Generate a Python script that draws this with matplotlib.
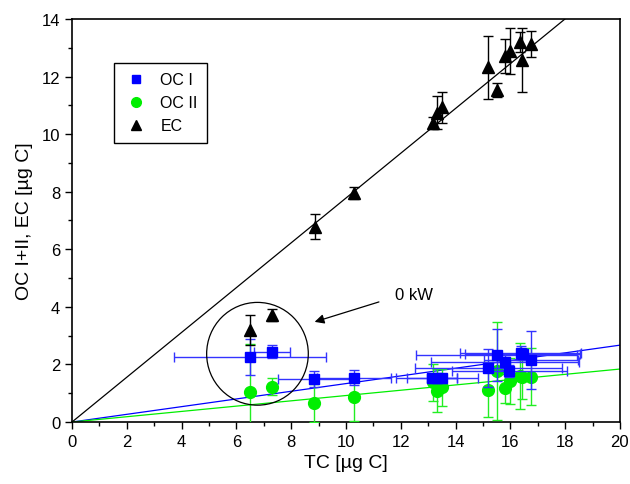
import numpy as np
import matplotlib
matplotlib.use("Agg")
import matplotlib.pyplot as plt
from matplotlib.patches import Ellipse
from matplotlib.lines import Line2D

plt.rcParams['font.family'] = ['Liberation Sans', 'DejaVu Sans']

# OC I (blue squares)
tc_oc1 = [6.5, 7.29, 8.84, 10.29, 13.13, 13.31, 13.49, 15.19, 15.5, 15.81, 15.96, 16.38, 16.45, 16.75]
oc1 = [2.27, 2.44, 1.49, 1.53, 1.52, 1.53, 1.52, 1.88, 2.34, 2.07, 1.78, 2.40, 2.35, 2.16]
oc1_yerr = [0.63, 0.23, 0.28, 0.26, 0.15, 0.15, 0.15, 0.66, 0.9, 0.25, 0.2, 0.25, 0.2, 1.0]
oc1_xerr = [2.78, 0.66, 1.32, 1.35, 0.92, 1.5, 0.55, 2.68, 2.95, 2.7, 2.1, 2.2, 2.1, 1.72]

# OC II (green circles)
tc_oc2 = [6.5, 7.29, 8.84, 10.29, 13.16, 13.33, 13.49, 15.19, 15.5, 15.81, 15.98, 16.35, 16.41, 16.75]
oc2 = [1.06, 1.23, 0.66, 0.86, 1.38, 1.09, 1.20, 1.12, 1.78, 1.17, 1.43, 1.61, 1.55, 1.58]
oc2_err = [1.65, 0.3, 0.66, 0.82, 0.65, 0.75, 0.65, 0.95, 1.7, 0.5, 0.8, 1.15, 0.75, 1.0]

# EC (black triangles)
tc_ec = [6.5, 7.29, 8.87, 10.3, 13.16, 13.33, 13.49, 15.19, 15.52, 15.8, 15.98, 16.35, 16.41, 16.75]
ec = [3.2, 3.72, 6.79, 7.95, 10.38, 10.75, 10.93, 12.32, 11.54, 12.72, 12.89, 13.2, 12.57, 13.13]
ec_err = [0.52, 0.2, 0.45, 0.2, 0.2, 0.56, 0.55, 1.1, 0.25, 0.6, 0.8, 0.35, 1.1, 0.45]

# fit slopes (lines through origin)
slope_ec = 0.778
slope_oc1 = 0.1335
slope_oc2 = 0.092

blue = '#0000ff'
green = '#00ee00'

fig = plt.figure(figsize=(6.3, 4.85), dpi=100)
ax = fig.add_axes([0.1143, 0.1278, 0.8697, 0.831])

xx = np.array([0, 20])
ax.plot(xx, slope_ec * xx, color='black', lw=0.9, zorder=2)
ax.plot(xx, slope_oc1 * xx, color=blue, lw=0.9, zorder=2)
ax.plot(xx, slope_oc2 * xx, color=green, lw=0.9, zorder=2)

ax.errorbar(tc_oc1, oc1, yerr=oc1_yerr, xerr=oc1_xerr, fmt='s', color=blue,
            ms=7, ecolor='#3333ff', elinewidth=1.0, capsize=3.5, capthick=1.0, zorder=4)
ax.errorbar(tc_oc2, oc2, yerr=oc2_err, fmt='o', color=green, ms=8.5,
            ecolor='#22ee22', elinewidth=1.0, capsize=3.5, capthick=1.0, zorder=3)
ax.errorbar(tc_ec, ec, yerr=ec_err, fmt='^', color='black', ms=9,
            elinewidth=1.0, capsize=3.5, capthick=1.0, zorder=5)

ax.add_patch(Ellipse((6.77, 2.37), 3.71, 3.57, fill=False, edgecolor='black', lw=0.9, zorder=6))
ax.annotate('', xy=(8.76, 3.45), xytext=(11.3, 4.2),
            arrowprops=dict(arrowstyle='-|>', color='black', lw=0.9, mutation_scale=14))
ax.text(12.5, 4.44, '0 kW', fontsize=12, ha='center', va='center')

ax.set_xlim(0, 20)
ax.set_ylim(0, 14)
ax.set_xticks(range(0, 21, 2))
ax.set_yticks(range(0, 15, 2))
ax.set_xticks(range(1, 20, 2), minor=True)
ax.set_yticks(range(1, 14, 2), minor=True)
ax.tick_params(which='major', direction='out', length=5, width=1, labelsize=12)
ax.tick_params(which='minor', direction='out', length=3, width=1)
for s in ax.spines.values():
    s.set_linewidth(1.2)

ax.set_xlabel('TC [µg C]', fontsize=14, labelpad=4)
ax.set_ylabel('OC I+II, EC [µg C]', fontsize=14, labelpad=6)

handles = [
    Line2D([], [], ls='none', marker='s', color=blue, ms=6),
    Line2D([], [], ls='none', marker='o', color=green, ms=7),
    Line2D([], [], ls='none', marker='^', color='black', ms=7),
]
leg = ax.legend(handles, ['OC I', 'OC II', 'EC'], loc='upper left',
                bbox_to_anchor=(0.0766, 0.891), borderaxespad=0, fontsize=11.5,
                frameon=True, fancybox=False, edgecolor='black', handletextpad=0.7,
                borderpad=0.6, labelspacing=0.5, handlelength=1.6, framealpha=1)
leg.get_frame().set_linewidth(1.0)

fig.savefig('out.png', dpi=100)
